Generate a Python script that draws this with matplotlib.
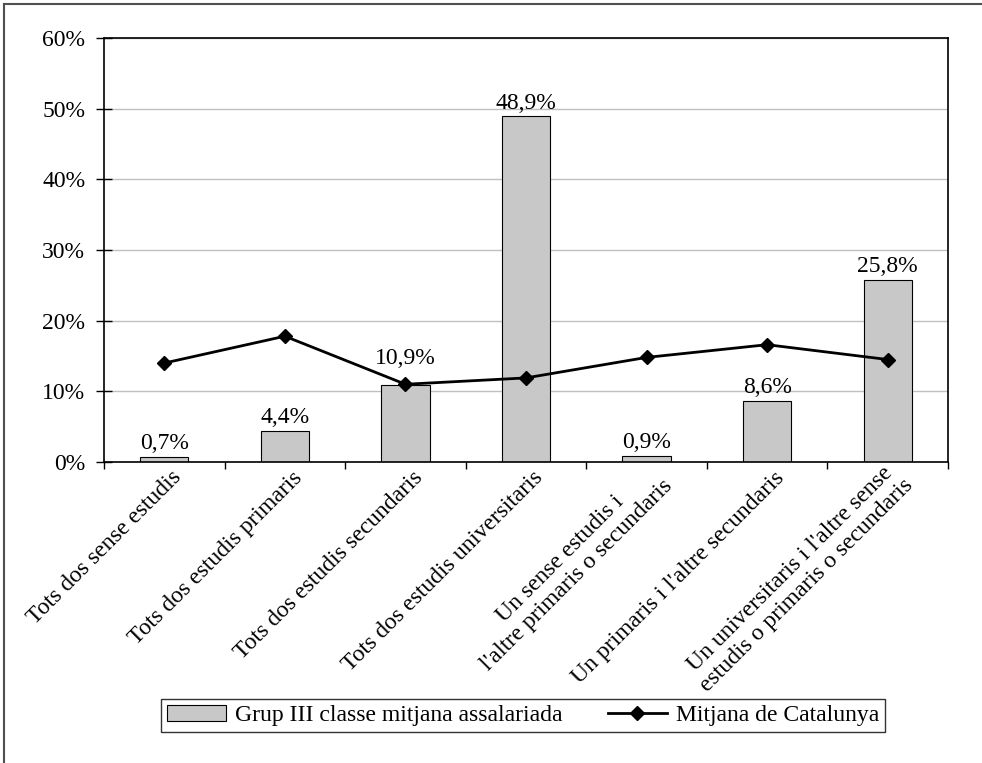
import matplotlib
matplotlib.use("Agg")
import matplotlib.pyplot as plt
from matplotlib.lines import Line2D
import numpy as np

categories = [
    "Tots dos sense estudis",
    "Tots dos estudis primaris",
    "Tots dos estudis secundaris",
    "Tots dos estudis universitaris",
    "Un sense estudis i\nl'altre primaris o secundaris",
    "Un primaris i l'altre secundaris",
    "Un universitaris i l'altre sense\nestudis o primaris o secundaris",
]
grup_iii = [0.7, 4.4, 10.9, 48.9, 0.9, 8.6, 25.8]
mitjana_catalunya = [14.0, 17.8, 11.0, 11.9, 14.8, 16.6, 14.5]
yticks = [0, 10, 20, 30, 40, 50, 60]
series_names = ["Grup III classe mitjana assalariada", "Mitjana de Catalunya"]

FS = 17
plt.rcParams['font.family'] = ['Liberation Serif', 'DejaVu Serif']
plt.rcParams['font.size'] = FS

fig = plt.figure(figsize=(9.82, 7.63), dpi=100)
ax = fig.add_axes([104/982, 1-462/763, (948-104)/982, (462-38)/763])

x = np.arange(len(categories))
bars = ax.bar(x, grup_iii, width=0.4, color='#c8c8c8', edgecolor='black',
              linewidth=0.8, label=series_names[0], zorder=2)
line, = ax.plot(x, mitjana_catalunya, color='black', linewidth=2, marker='D',
                markersize=7.5, label=series_names[1], zorder=3)

for xi, v, m in zip(x, grup_iii, mitjana_catalunya):
    # lift a label that would sit on top of the line marker
    lift = 1.8 if abs(m - v) < 1.5 else 0.0
    ax.text(xi, v + 0.4 + lift, f"{v:.1f}".replace('.', ',') + '%', ha='center',
            va='bottom', fontsize=FS, zorder=4)

ax.set_xlim(-0.5, len(categories) - 0.5)
ax.set_ylim(0, 60)
ax.set_yticks(yticks)
ax.set_yticklabels([f"{t}%" for t in yticks])
ax.yaxis.grid(True, color='#c0c0c0', linewidth=1, zorder=0)
ax.set_axisbelow(True)

ax.set_xticks(x)
ax.set_xticklabels([])
ax.tick_params(axis='x', which='major', length=0)
ax.set_xticks(np.arange(-0.5, len(categories), 1.0), minor=True)
ax.tick_params(axis='x', which='minor', length=5, direction='out', width=1)
ax.tick_params(axis='y', length=12, direction='inout', width=1, pad=7.5)

for s in ax.spines.values():
    s.set_linewidth(1.2)
    s.set_color('black')

# rotated category labels (block vertically centred on anchor)
for xi, lab in zip(x, categories):
    ax.annotate(lab, xy=(xi, 0), xycoords=('data', 'axes fraction'),
                xytext=(10, -9), textcoords='offset points',
                rotation=45, rotation_mode='anchor', ha='right', va='center',
                multialignment='center', linespacing=1.15, fontsize=FS)

leg = ax.legend(handles=[bars, line], loc='center', ncol=2,
                bbox_to_anchor=(523/982, 1-715.5/763), bbox_transform=fig.transFigure,
                frameon=True, fancybox=False, edgecolor='black', fontsize=FS,
                handlelength=2.5, handleheight=0.65, handletextpad=0.4,
                columnspacing=1.9, borderpad=0.25, borderaxespad=0)
leg.get_frame().set_linewidth(1.0)

# figure border (top and left)
fig.add_artist(Line2D([4/982, 1], [1-4/763, 1-4/763], transform=fig.transFigure,
                      color='#505050', linewidth=1.5))
fig.add_artist(Line2D([4/982, 4/982], [0, 1-4/763], transform=fig.transFigure,
                      color='#505050', linewidth=1.5))

fig.savefig('out.png', dpi=100)
